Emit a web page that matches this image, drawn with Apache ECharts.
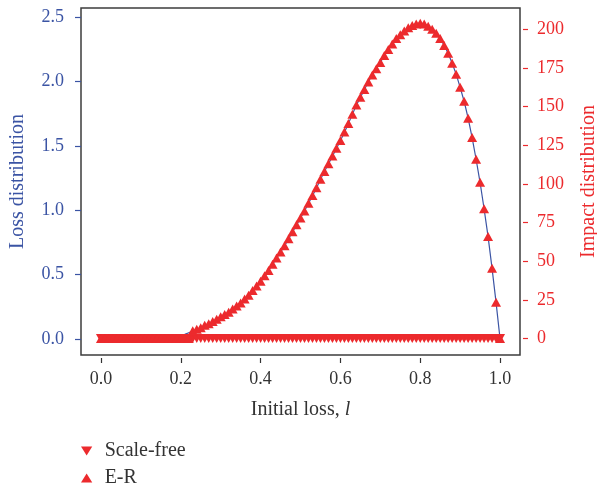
<!DOCTYPE html>
<html>
<head>
<meta charset="utf-8">
<script src="https://cdn.jsdelivr.net/npm/echarts@6/dist/echarts.min.js"></script>
<style>
  html, body { margin: 0; padding: 0; background: #fff; }
  #chart { width: 597px; height: 487px; }
</style>
</head>
<body>
<div id="chart"></div>
<script>
var FONT = "Liberation Serif"
var BLUE = "#3b54a4"
var RED = "#ec2a2d"

// initial loss l, step 0.01
var xs = [
    0.00, 0.01, 0.02, 0.03, 0.04, 0.05, 0.06, 0.07, 0.08, 0.09,
    0.10, 0.11, 0.12, 0.13, 0.14, 0.15, 0.16, 0.17, 0.18, 0.19,
    0.20, 0.21, 0.22, 0.23, 0.24, 0.25, 0.26, 0.27, 0.28, 0.29,
    0.30, 0.31, 0.32, 0.33, 0.34, 0.35, 0.36, 0.37, 0.38, 0.39,
    0.40, 0.41, 0.42, 0.43, 0.44, 0.45, 0.46, 0.47, 0.48, 0.49,
    0.50, 0.51, 0.52, 0.53, 0.54, 0.55, 0.56, 0.57, 0.58, 0.59,
    0.60, 0.61, 0.62, 0.63, 0.64, 0.65, 0.66, 0.67, 0.68, 0.69,
    0.70, 0.71, 0.72, 0.73, 0.74, 0.75, 0.76, 0.77, 0.78, 0.79,
    0.80, 0.81, 0.82, 0.83, 0.84, 0.85, 0.86, 0.87, 0.88, 0.89,
    0.90, 0.91, 0.92, 0.93, 0.94, 0.95, 0.96, 0.97, 0.98, 0.99,
    1.00
]

// loss distribution (left axis, blue line)
var loss = [
    0, 0, 0, 0, 0, 0, 0, 0, 0, 0,
    0, 0, 0, 0, 0, 0, 0, 0, 0.005, 0.012,
    0.022, 0.034, 0.047, 0.060, 0.072, 0.084, 0.102, 0.114, 0.132, 0.150,
    0.168, 0.187, 0.205, 0.229, 0.253, 0.277, 0.307, 0.337, 0.373, 0.409,
    0.445, 0.487, 0.529, 0.578, 0.626, 0.674, 0.722, 0.776, 0.830, 0.884,
    0.939, 0.993, 1.053, 1.113, 1.173, 1.239, 1.300, 1.360, 1.420, 1.480,
    1.540, 1.606, 1.673, 1.745, 1.817, 1.877, 1.937, 1.998, 2.052, 2.100,
    2.148, 2.202, 2.250, 2.292, 2.335, 2.365, 2.395, 2.419, 2.437, 2.449,
    2.455, 2.449, 2.431, 2.407, 2.377, 2.335, 2.280, 2.220, 2.142, 2.058,
    1.955, 1.847, 1.715, 1.564, 1.396, 1.215, 1.011, 0.794, 0.548, 0.283,
    0
]

// impact distribution (right axis)
var scaleFree = [
    0, 0, 0, 0, 0, 0, 0, 0, 0, 0,
    0, 0, 0, 0, 0, 0, 0, 0, 0, 0,
    0, 0, 0, 0, 0, 0, 0, 0, 0, 0,
    0, 0, 0, 0, 0, 0, 0, 0, 0, 0,
    0, 0, 0, 0, 0, 0, 0, 0, 0, 0,
    0, 0, 0, 0, 0, 0, 0, 0, 0, 0,
    0, 0, 0, 0, 0, 0, 0, 0, 0, 0,
    0, 0, 0, 0, 0, 0, 0, 0, 0, 0,
    0, 0, 0, 0, 0, 0, 0, 0, 0, 0,
    0, 0, 0, 0, 0, 0, 0, 0, 0, 0,
    0
]
var er = [
    0, 0, 0, 0, 0, 0, 0, 0, 0, 0,
    0, 0, 0, 0, 0, 0, 0, 0, 0, 0,
    0, 0, 0, 5, 6, 7, 8.5, 9.5, 11, 12.5,
    14, 15.5, 17, 19, 21, 23, 25.5, 28, 31, 34,
    37, 40.5, 44, 48, 52, 56, 60, 64.5, 69, 73.5,
    78, 82.5, 87.5, 92.5, 97.5, 103, 108, 113, 118, 123,
    128, 133.5, 139, 145, 151, 156, 161, 166, 170.5, 174.5,
    178.5, 183, 187, 190.5, 194, 196.5, 199, 201, 202.5, 203.5,
    204, 203.5, 202, 200, 197.5, 194, 189.5, 184.5, 178, 171,
    162.5, 153.5, 142.5, 130, 116, 101, 84, 66, 45.5, 23.5,
    0
]

var xTicks = [0, 0.2, 0.4, 0.6, 0.8, 1.0]
var lossTicks = [0, 0.5, 1.0, 1.5, 2.0, 2.5]
var impactTicks = [0, 25, 50, 75, 100, 125, 150, 175, 200]

function pairs(ys) {
    return xs.map(function (x, i) { return [x, ys[i]] })
}

var DOWN = "path://M0,0L10,0L5,8Z"
var UP = "path://M5,0L10,8L0,8Z"

var chartDom = document.getElementById("chart")
var myChart = echarts.init(chartDom)
var option

option = {
    animation: false,
    textStyle: { fontFamily: FONT },
    grid: {
        left: 81,
        right: 77,
        top: 8,
        bottom: 132,
        containLabel: false,
        outerBoundsMode: "none",
        show: true,
        borderColor: "#3c3c3c",
        borderWidth: 1.5,
        backgroundColor: "transparent"
    },
    legend: {
        orient: "vertical",
        left: 81,
        top: 441,
        height: 80,
        padding: 0,
        itemWidth: 12,
        itemHeight: 9,
        itemGap: 7,
        data: [
            { name: "Scale-free", icon: DOWN },
            { name: "E-R", icon: UP }
        ],
        textStyle: { fontFamily: FONT, fontSize: 20, color: "#333", padding: [0, 0, 0, 7] }
    },
    xAxis: {
        type: "value",
        min: -0.05,
        max: 1.05,
        offset: 3,
        name: "Initial loss, {i|l}",
        nameLocation: "middle",
        nameGap: 42,
        nameTextStyle: {
            fontFamily: FONT, fontSize: 20, color: "#333",
            rich: { i: { fontFamily: FONT, fontSize: 20, fontStyle: "italic", color: "#333" } }
        },
        axisLine: { show: false, onZero: false },
        axisTick: { show: true, length: 5, customValues: xTicks, lineStyle: { color: "#333", width: 1.2 } },
        axisLabel: {
            customValues: xTicks,
            margin: 12,
            fontFamily: FONT, fontSize: 18, color: "#333",
            formatter: function (v) { return v.toFixed(1) }
        },
        splitLine: { show: false }
    },
    yAxis: [
        {
            type: "value",
            position: "left",
            min: -0.126,
            max: 2.572,
            name: "Loss distribution",
            nameLocation: "middle",
            nameGap: 53,
            nameTextStyle: { fontFamily: FONT, fontSize: 20, color: BLUE },
            axisLine: { show: false, onZero: false },
            axisTick: { show: true, length: 6, customValues: lossTicks, lineStyle: { color: BLUE, width: 1.2 } },
            axisLabel: {
                customValues: lossTicks,
                margin: 17,
                fontFamily: FONT, fontSize: 18, color: BLUE,
                formatter: function (v) { return v.toFixed(1) }
            },
            splitLine: { show: false }
        },
        {
            type: "value",
            position: "right",
            min: -10.7,
            max: 213.8,
            offset: 3,
            name: "Impact distribution",
            nameLocation: "middle",
            nameGap: 56,
            nameTextStyle: { fontFamily: FONT, fontSize: 20, color: RED },
            axisLine: { show: false, onZero: false },
            axisTick: { show: true, length: 5, customValues: impactTicks, lineStyle: { color: RED, width: 1.2 } },
            axisLabel: {
                customValues: impactTicks,
                margin: 14,
                fontFamily: FONT, fontSize: 18, color: RED
            },
            splitLine: { show: false }
        }
    ],
    series: [
        {
            name: "Loss",
            type: "line",
            yAxisIndex: 0,
            data: pairs(loss),
            showSymbol: false,
            lineStyle: { color: BLUE, width: 1.2 },
            z: 1
        },
        {
            name: "Scale-free",
            type: "scatter",
            yAxisIndex: 1,
            data: pairs(scaleFree),
            symbol: DOWN,
            symbolSize: [10, 9],
            itemStyle: { color: RED, opacity: 1 },
            z: 2
        },
        {
            name: "E-R",
            type: "scatter",
            yAxisIndex: 1,
            data: pairs(er),
            symbol: UP,
            symbolSize: [10, 9],
            itemStyle: { color: RED, opacity: 1 },
            z: 3
        }
    ]
}

option && myChart.setOption(option)
</script>
</body>
</html>
